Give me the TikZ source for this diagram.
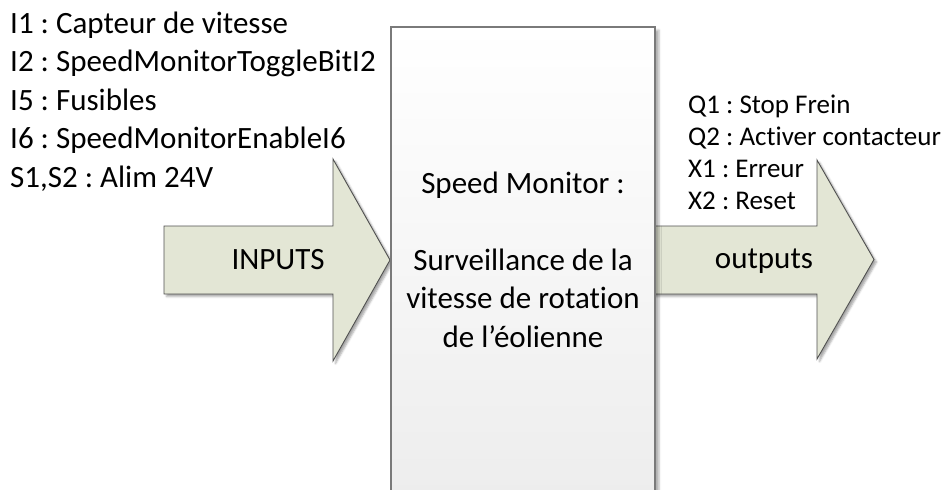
\documentclass[tikz,border=0pt]{standalone}
\usepackage{fontspec}
\setmainfont{Carlito}[Ligatures=NoCommon]
\frenchspacing
\usetikzlibrary{shadows.blur}
\definecolor{arrowfill}{HTML}{E3E6D5}
\definecolor{arrowline}{HTML}{505050}
\definecolor{boxline}{HTML}{7A7A7A}
\tikzset{
  bigarrow/.style={draw=arrowline, line width=0.9pt, fill=arrowfill, line join=miter,
    blur shadow={shadow xshift=2.5pt, shadow yshift=-2.5pt, shadow blur radius=2pt, shadow opacity=35}},
  monbox/.style={draw=boxline, line width=1.1pt, top color=white, bottom color=black!8,
    blur shadow={shadow xshift=4pt, shadow yshift=-3pt, shadow blur radius=2pt, shadow opacity=30}},
  biglabel/.style={inner sep=0pt, font=\fontsize{31}{38.5}\selectfont},
  smalllabel/.style={inner sep=0pt, font=\fontsize{27}{32.2}\selectfont},
}
\begin{document}
\begin{tikzpicture}[x=1pt, y=-1pt]
  \useasboundingbox (0,0) rectangle (943,490);
  \clip (0,0) rectangle (943,490);

  % input arrow
  \draw[bigarrow] (164,226) -- (333,226) -- (333,159) -- (390,260)
    -- (333,361) -- (333,294) -- (164,294) -- cycle;
  % output arrow (its tail runs under the block)
  \draw[bigarrow] (650,226) -- (817,226) -- (817,160) -- (874,259.5)
    -- (817,359) -- (817,294) -- (650,294) -- cycle;

  % central block
  \draw[monbox] (391,27) rectangle (655,560);

  % labels (a multi-line node's base anchor sits on its last baseline)
  \node[biglabel, anchor=base west, align=left] (ins) at (10,187)
    {I1 : Capteur de vitesse\\
     I2 : SpeedMonitorToggleBitI2\\
     I5 : Fusibles\\
     I6 : SpeedMonitorEnableI6\\
     S1,S2 : Alim 24V};
  \node[smalllabel, anchor=base west, align=left] (outs) at (688,209.6)
    {Q1 : Stop Frein\\
     Q2 : Activer contacteur\\
     X1 : Erreur\\
     X2 : Reset};
  \node[biglabel, anchor=base] (inlbl) at (278,269) {INPUTS};
  \node[biglabel, anchor=base] (outlbl) at (764,268) {outputs};
  \node[biglabel, anchor=base, align=center] (mon) at (523,347)
    {Speed Monitor :\\[38.5pt]
     Surveillance de la\\
     vitesse de rotation\\
     de l’éolienne};
\end{tikzpicture}
\end{document}
